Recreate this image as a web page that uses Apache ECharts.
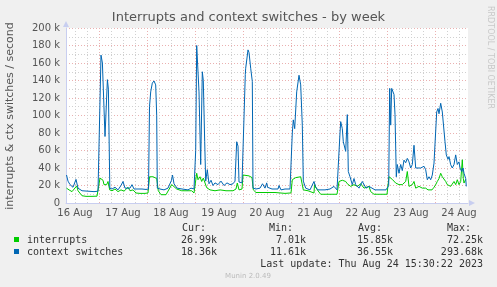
<!DOCTYPE html>
<html>
<head>
<meta charset="utf-8">
<script src="https://cdn.jsdelivr.net/npm/echarts@6/dist/echarts.min.js"></script>
<style>
  html, body { margin: 0; padding: 0; background: #f0f0f0; }
  #chart { width: 497px; height: 287px; }
</style>
</head>
<body>
<div id="chart"></div>
<script>
// time is counted in hours from 16 Aug 00:00
const dayLabels = ['16 Aug', '17 Aug', '18 Aug', '19 Aug', '20 Aug', '21 Aug', '22 Aug', '23 Aug', '24 Aug'];
const labelHours = [12, 36, 60, 84, 108, 132, 156, 180, 204]; // labels sit at noon
const dayHours = [24, 48, 72, 96, 120, 144, 168, 192];        // red lines at midnight
const sixHours = [12, 18, 30, 36, 42, 54, 60, 66, 78, 84, 90, 102, 108, 114, 126, 132, 138, 150, 156, 162, 174, 180, 186, 198, 204];

// interrupts (k/s)
const irqHours = [7.75, 9, 10.5, 11.5, 12.85, 13.5, 14.5, 15.5, 17.5, 20.5, 23, 23.75, 24.5, 26, 26.5, 27.85, 28.5, 29.35,
  30.5, 32, 33.5, 35, 36.5, 38.5, 39.5, 41, 42.5, 44.5, 47, 48.5, 49.25, 51, 52.85, 53.65, 55, 57.5, 60.35, 61, 62.85,
  65.35, 67.5, 70.35, 71.5, 72.85, 73.5, 74.5, 75.35, 76.15, 77.85, 79.5, 82, 84.5, 87.5, 91, 92.5, 93.15, 94, 95.5,
  96, 97, 99, 100.5, 101.15, 102.5, 107, 112, 117, 120, 120.65, 122.35, 124.85, 125.65, 126.15, 128.5, 131.5, 131.75,
  133.15, 134.85, 139.5, 143, 144, 145.65, 147.35, 148.15, 149.85, 151.5, 153.15, 154.85, 156.5, 157.5, 159, 159.85,
  161.5, 164.5, 168, 169, 170.65, 171.5, 172.35, 173.15, 174, 175.65, 177.35, 178.15, 179, 180.65, 181.5, 182.35,
  184, 185.65, 187.35, 188.5, 190.5, 191.5, 192.35, 193.15, 194, 194.85, 195.65, 196.5, 197.35, 198.15, 199, 199.85,
  200.65, 201.5, 202.35, 203.15, 204, 204.85, 205.65, 206.15, 206.5, 207.35];
const irqValues = [17, 15, 13, 15, 19.5, 14, 14, 8.3, 7.6, 7.6, 7.8, 8, 28.5, 26, 21, 21, 24.6, 15,
  14, 16, 13, 15, 13.5, 18, 14, 15, 11.4, 11, 11, 11.5, 30, 30, 28, 14, 9.5, 9.5, 21, 19, 16,
  14, 14, 14, 11.4, 34, 26.6, 30, 24.6, 28.5, 17.5, 15, 14, 15, 14, 14, 16, 22.8, 15, 16,
  32, 30, 31, 29, 15, 12, 12, 12, 11, 11.5, 26.6, 29, 30, 28.5, 15, 14, 11.4, 21,
  15, 10, 10, 10, 24.6, 26, 24.6, 22, 19, 21, 19, 22, 17, 15, 19, 13,
  10, 10, 10, 30, 27, 28, 22.8, 24.6, 21, 21, 24.6, 36, 19, 21, 24.6, 17,
  19, 17, 17, 15, 15, 18, 21, 24.6, 28, 34, 30, 28, 24.6, 21, 22.8, 19,
  21, 24.6, 21, 26.6, 21, 24.6, 49.4, 28, 22.8, 27];

// context switches (k/s)
const ctxHours = [7.75, 8.5, 9.5, 11, 12.5, 13.5, 15.5, 18.5, 21.5, 23.5, 24, 25, 25.7, 27, 28.2, 28.7, 29.4,
  30.5, 32, 33.5, 35, 36, 37, 38, 39.5, 40.5, 41.5, 43.5, 45.5, 47.5, 48.75, 49.25, 49.85, 50.65, 51.5, 52.35, 52.85,
  53.15, 54.5, 56.5, 58.5, 60.25, 60.75, 61.5, 63, 65.5, 68.5, 70, 71.5, 72.35, 72.85, 74, 74.85, 75.65, 76.15, 76.85,
  77.35, 78.15, 79, 80, 81, 82, 83.5, 85, 86.5, 88, 89.5, 91, 92, 92.85, 93.5, 94, 95.5, 96.5, 97.15, 97.35, 98.5, 99,
  99.85, 100.65, 101, 102.5, 104.5, 105.75, 107, 107.85, 108.25, 109, 110.5, 113.5, 114, 115, 117, 119.5, 120.25,
  120.65, 121.15, 121.85, 122.85, 124, 124.85, 125.65, 126.15, 127.35, 129.5, 131.5, 132.35, 133.5, 137, 139.5, 141.5,
  143, 144, 144.5, 144.85, 145.65, 146.15, 146.85, 147.35, 148.15, 148.65, 149.5, 150.65, 151.5, 152.35, 154, 155.65,
  156.5, 157.5, 159, 160, 162, 164.5, 167.5, 168.85, 169.35, 169.85, 170.35, 170.85, 171.5, 172, 172.65, 173.15, 174,
  174.85, 175.65, 176.5, 177.35, 178.15, 179, 179.85, 180.65, 181.5, 182.35, 183.15, 184.85, 186.5, 187.35, 188.15,
  189, 189.85, 190.65, 191.5, 192.35, 192.85, 193.5, 194, 194.85, 195.65, 196.5, 197, 197.65, 198.5, 199, 199.85,
  200.65, 201.5, 202.35, 203.15, 204, 204.5, 205.35, 206, 206.5, 207.35, 207.65];
const ctxValues = [32, 25, 21, 18, 27, 17, 14, 13.5, 13, 13.5, 14, 169, 160, 76, 141, 130, 17,
  16, 18, 15, 20, 24.6, 17, 19, 17, 21, 16, 16, 16, 15.5, 16, 110, 127, 137, 139.5, 135, 100,
  17, 16, 15, 17, 26, 32, 22, 17, 16, 15, 17, 16, 60, 180, 127, 44, 150, 140, 70,
  25, 38, 22, 26, 20, 23, 21, 25, 20, 23, 21, 22, 25, 70, 65, 24, 23, 24, 147, 154, 175, 172,
  154, 139, 17, 16, 17, 22, 17, 23, 18, 20, 16, 16, 20, 15, 16, 16, 17,
  80, 95, 85, 127, 146, 135, 89, 25, 17, 15, 24.6, 18, 15, 15, 16, 19,
  15, 16, 80, 93, 85, 70, 72, 59, 101, 36, 30, 21, 28, 21, 17, 24.6,
  24, 17, 19, 17, 15, 15, 15, 20, 131, 89, 131, 133, 124, 101, 30, 44, 34,
  44, 37, 49, 46, 51, 47, 40, 44, 66, 40, 42, 40, 42, 38, 26.6,
  30, 26.6, 32, 45.6, 44, 104, 108, 102, 114, 104, 102.7, 70, 55, 50, 53, 43.7,
  40, 44, 55, 44, 47, 40, 36, 40, 34, 28, 19];

const seriesNames = ['interrupts', 'context switches'];
const seriesColors = ['#00cc00', '#0066b3'];
const curValues = ['26.99k', '18.36k'];
const minValues = ['7.01k', '11.61k'];
const avgValues = ['15.85k', '36.55k'];
const maxValues = ['72.25k', '293.68k'];

const toPairs = (hours, values) => hours.map((h, i) => [h, values[i] * 1000]);

const mono = 'DejaVu Sans Mono';
const sans = 'DejaVu Sans';
const gridRed = '#eab0b0';
const gridGrey = '#d0d0d0';
const axisColor = '#c8cef0';

let chart = echarts.init(document.getElementById('chart'));

// legend block below the plot
let legendItems = [];
const headers = [['Cur:', 182], ['Min:', 269], ['Avg:', 358], ['Max:', 447]];
headers.forEach(h => legendItems.push({
  type: 'text', left: h[1], top: 223,
  style: { text: h[0], font: '10px ' + mono, fill: '#333' }
}));
const cols = [[curValues, 217], [minValues, 306], [avgValues, 393], [maxValues, 483]];
seriesNames.forEach((name, i) => {
  const y = 235 + i * 12;
  legendItems.push({ type: 'rect', shape: { x: 14, y: y + 2, width: 5, height: 5 }, style: { fill: seriesColors[i] } });
  legendItems.push({ type: 'text', x: 27, y: y, style: { text: name, font: '10px ' + mono, fill: '#333' } });
  cols.forEach(c => legendItems.push({
    type: 'text', x: c[1], y: y,
    style: { text: c[0][i], font: '10px ' + mono, fill: '#333', align: 'right' }
  }));
});

let option = {
  backgroundColor: '#f0f0f0',
  animation: false,
  title: {
    text: 'Interrupts and context switches - by week',
    left: 'center', top: 6,
    textStyle: { fontFamily: sans, fontSize: 13, fontWeight: 'normal', color: '#555' }
  },
  grid: {
    left: 66, right: 29, top: 28, bottom: 84,
    show: true, backgroundColor: '#ffffff', borderWidth: 0
  },
  xAxis: [{
    type: 'value', min: 7.5, max: 208.5,
    axisLine: { show: true, lineStyle: { color: axisColor }, symbol: ['none', 'triangle'], symbolSize: [6, 6], symbolOffset: [0, 4] },
    axisTick: { show: false, customValues: dayHours },
    splitLine: { show: true, lineStyle: { color: gridRed, type: [1, 2] } },
    axisLabel: {
      customValues: labelHours, margin: 5,
      fontFamily: sans, fontSize: 10, color: '#555',
      formatter: v => dayLabels[labelHours.indexOf(v)]
    }
  }, {
    type: 'value', min: 7.5, max: 208.5, position: 'bottom',
    axisLine: { show: false },
    axisTick: { show: false, customValues: sixHours },
    axisLabel: { show: false },
    splitLine: { show: true, lineStyle: { color: gridGrey, type: [1, 2] } }
  }],
  yAxis: {
    type: 'value', min: 0, max: 200000, interval: 20000,
    axisLine: { show: true, lineStyle: { color: axisColor }, symbol: ['none', 'triangle'], symbolSize: [6, 6], symbolOffset: [0, 4] },
    axisTick: { show: false },
    axisLabel: {
      margin: 6, fontFamily: sans, fontSize: 10, color: '#555',
      formatter: v => v === 0 ? '0' : (v / 1000) + ' k'
    },
    splitLine: { show: true, lineStyle: { color: gridRed, type: [1, 2] } },
    minorTick: { show: false, splitNumber: 2 },
    minorSplitLine: { show: true, lineStyle: { color: gridGrey, type: [1, 2] } }
  },
  series: [{
    name: seriesNames[0], type: 'line', xAxisIndex: 0,
    showSymbol: false, symbol: 'none',
    lineStyle: { color: seriesColors[0], width: 1 },
    data: toPairs(irqHours, irqValues)
  }, {
    name: seriesNames[1], type: 'line', xAxisIndex: 0,
    showSymbol: false, symbol: 'none',
    lineStyle: { color: seriesColors[1], width: 1 },
    data: toPairs(ctxHours, ctxValues)
  }],
  graphic: [{
    type: 'text', x: 5, y: 116, rotation: Math.PI / 2,
    style: { text: 'interrupts & ctx switches / second', font: '11px ' + sans, fill: '#555', align: 'center', verticalAlign: 'top' }
  }, {
    type: 'text', x: 490, y: 6, rotation: -Math.PI / 2,
    style: { text: 'RRDTOOL / TOBI OETIKER', font: '8px ' + sans, fill: '#c8c8c8', align: 'left', verticalAlign: 'middle' }
  }, {
    type: 'text', x: 483, y: 259,
    style: { text: 'Last update: Thu Aug 24 15:30:22 2023', font: '10px ' + mono, fill: '#333', align: 'right' }
  }, {
    type: 'text', x: 248, y: 273,
    style: { text: 'Munin 2.0.49', font: '7px ' + sans, fill: '#bbbbbb', align: 'center' }
  }].concat(legendItems)
};

// 使用刚指定的配置项和数据显示图表。
chart.setOption(option);
</script>
</body>
</html>
